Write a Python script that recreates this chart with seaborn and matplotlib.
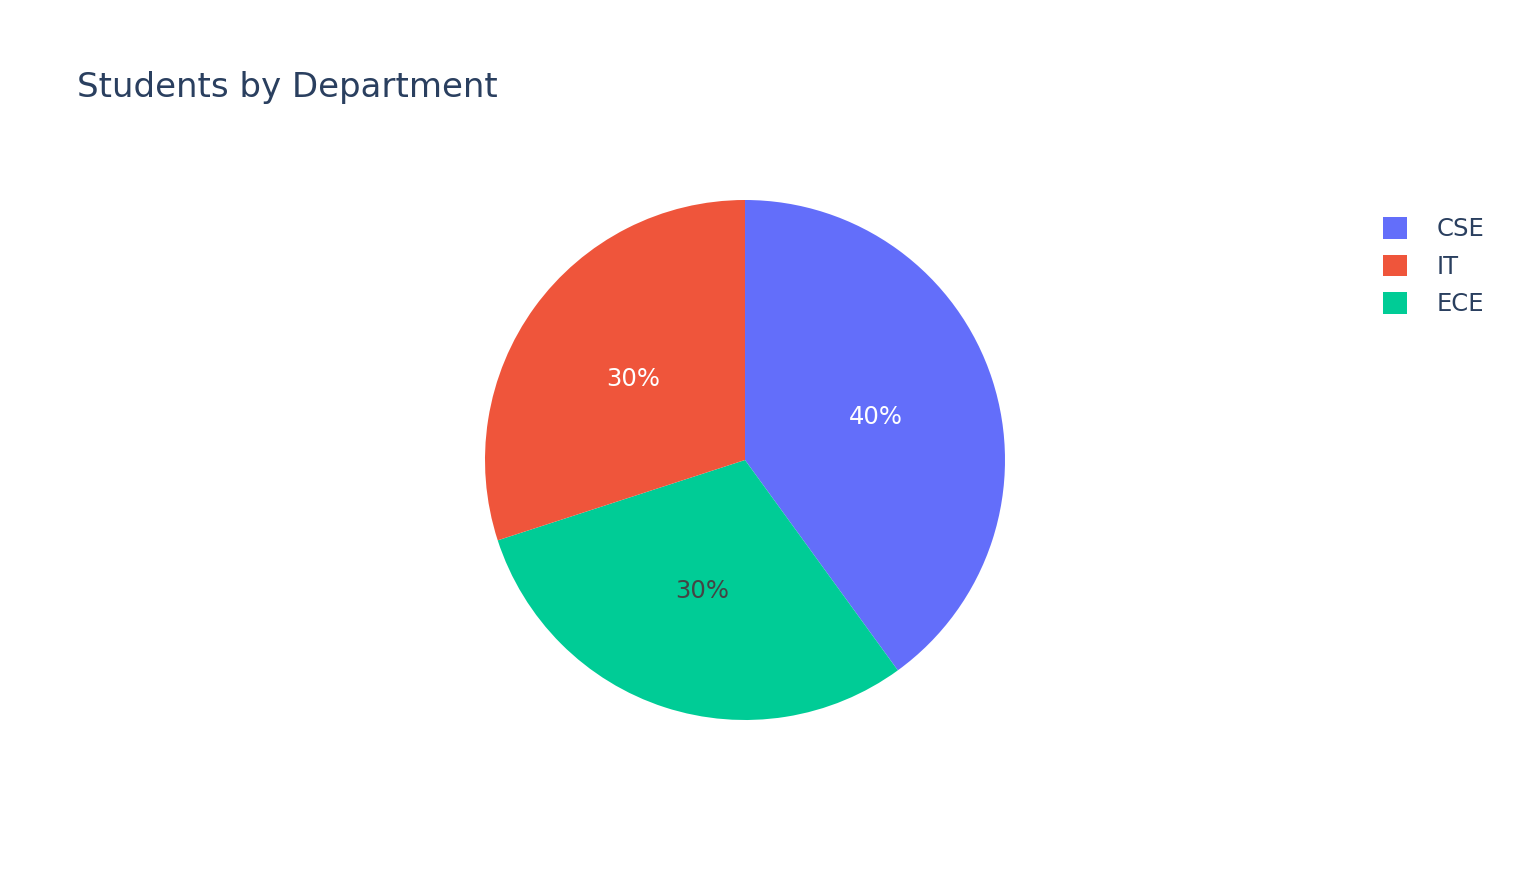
import matplotlib
matplotlib.use("Agg")
import matplotlib.pyplot as plt
import seaborn as sns
from matplotlib.patches import Patch

# data
departments = ["CSE", "ECE", "IT"]          # clockwise draw order
students = [40, 30, 30]
legend_order = ["CSE", "IT", "ECE"]
dept_colors = {"CSE": "#636EFA", "IT": "#EF553B", "ECE": "#00CC96"}
pct_text_colors = {"CSE": "white", "IT": "white", "ECE": "#444444"}

sns.set_theme(style="white")
plt.rcParams["font.family"] = ["DejaVu Sans"]

fig = plt.figure(figsize=(15.2, 8.8), dpi=100)
fig.patch.set_facecolor("white")

# pie centred at ~(745, 460) px, radius ~260 px
ax = fig.add_axes([(745 - 260) / 1520, (880 - 460 - 260) / 880, 520 / 1520, 520 / 880])

palette = sns.color_palette([dept_colors[d] for d in departments])
wedges, texts, autotexts = ax.pie(
    students,
    colors=palette,
    startangle=90,
    counterclock=False,
    autopct=lambda p: f"{p:.0f}%",
    pctdistance=0.53,
    radius=1.0,
    wedgeprops=dict(linewidth=0),
    textprops=dict(fontsize=17.5),
)
for d, t in zip(departments, autotexts):
    t.set_color(pct_text_colors[d])
ax.set_xlim(-1, 1)
ax.set_ylim(-1, 1)
ax.set_aspect("equal")
ax.axis("off")

fig.text(77 / 1520, 1 - 88 / 880, "Students by Department", fontsize=24.5,
         color="#2a3f5f", va="center", ha="left")

handles = [Patch(facecolor=dept_colors[d], edgecolor="none", label=d) for d in legend_order]
leg = fig.legend(handles=handles, loc="upper left", bbox_to_anchor=(1383 / 1520, 1 - 217 / 880),
                 frameon=False, fontsize=17.5, handlelength=1.0, handleheight=1.0,
                 handletextpad=1.2, labelspacing=0.55, borderpad=0, borderaxespad=0)
for t in leg.get_texts():
    t.set_color("#2a3f5f")

fig.savefig("out.png", dpi=100, facecolor="white")
